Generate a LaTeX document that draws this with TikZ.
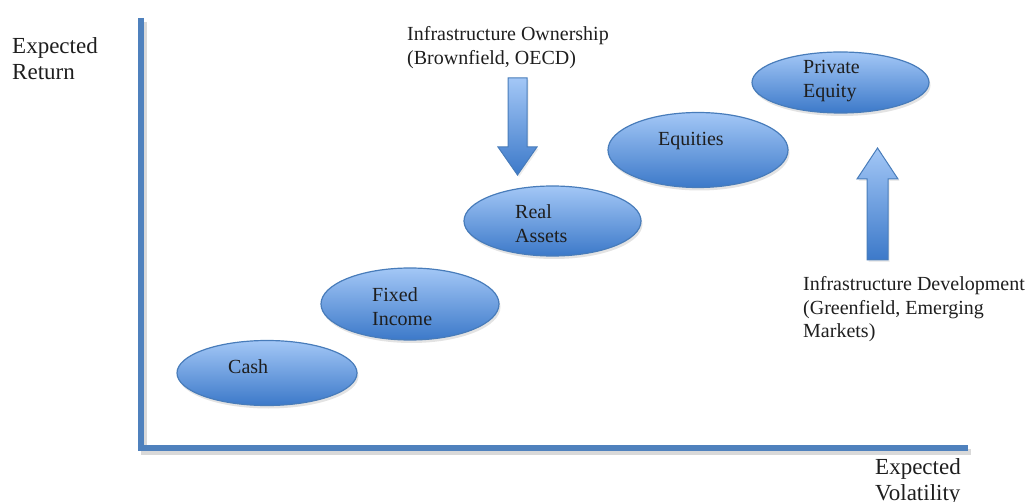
\documentclass[tikz,border=0pt]{standalone}
\usepackage{fontspec}
\setmainfont{Liberation Serif}
\usepackage{xcolor}
\definecolor{Col1}{RGB}{163,199,246}
\definecolor{Col2}{RGB}{60,121,201}
\definecolor{Col3}{RGB}{72,124,186}
\definecolor{Col4}{RGB}{79,129,189}
\definecolor{Col5}{RGB}{30,30,30}
\usepackage{tikz}
\usetikzlibrary{shapes}
\usetikzlibrary{shadows}
\tikzstyle{Blob}=[ellipse,draw=Col3,line width=1.2pt,top color=Col1,
bottom color=Col2,inner sep=0pt,
drop shadow={shadow xshift=1.5pt,shadow yshift=-3pt,fill=black!22}]
\tikzstyle{Block}=[draw=Col3,line width=1pt,top color=Col1,
bottom color=Col2,line join=miter,
drop shadow={shadow xshift=1.5pt,shadow yshift=-2pt,fill=black!15}]
\tikzstyle{Axis}=[draw=Col4,line width=6pt,line join=miter]
\tikzstyle{AxisShade}=[Axis,draw=black!15]
\tikzstyle{Label}=[anchor=north west,inner sep=0pt,align=left,
text=Col5,font=\fontsize{20}{23.5}\selectfont]
\tikzstyle{AxisLabel}=[Label,font=\fontsize{23}{26}\selectfont]

\begin{document}
\begin{tikzpicture}[x=1pt,y=-1pt]
        \useasboundingbox(0,0)rectangle(1027,502);
        % axes
        \coordinate(top)at(141.00,18.00);
        \coordinate(o)at(141.00,448.00);
        \coordinate(end)at(968.00,448.00);
        \draw[AxisShade]([shift={(3,4)}]top)--([shift={(3,4)}]o)
            --([shift={(3,4)}]end);
        \draw[Axis](top)--(o)--(end);
        \node[AxisLabel](ret)at(12.00,37.60){Expected\\Return};
        \node[AxisLabel](vol)at(875.00,458.80){Expected\\Volatility};
        % asset classes
        \node[Blob,minimum width=180,minimum height=65](cash)
            at(267.00,373.00){};
        \node[Blob,minimum width=178,minimum height=72](fixed)
            at(410.00,304.00){};
        \node[Blob,minimum width=177,minimum height=70](real)
            at(552.50,221.00){};
        \node[Blob,minimum width=180,minimum height=75](eq)
            at(698.00,150.00){};
        \node[Blob,minimum width=177,minimum height=61](pe)
            at(840.50,82.50){};
        \node[Label](cashT)at(228.00,359.50){Cash};
        \node[Label](fixedT)at(372.00,287.50){Fixed\\Income};
        \node[Label](realT)at(515.00,204.50){Real\\Assets};
        \node[Label](eqT)at(658.00,132.50){Equities};
        \node[Label](peT)at(803.00,60.50){Private\\Equity};
        % infrastructure
        \node[Label](own)at(407.00,26.30)
            {Infrastructure Ownership\\(Brownfield, OECD)};
        \node[Label](dev)at(803.00,276.70)
            {Infrastructure Development\\(Greenfield, Emerging\\Markets)};
        \coordinate(down)at(517.50,78.00);
        \coordinate(up)at(877.50,260.00);
        \path[Block](down)++(-9.5,0)--++(0,69)--++(-10,0)--(517.50,175.00)
            --(537.00,147.00)--++(-10,0)--++(0,-69)--cycle;
        \path[Block](up)++(-10.5,0)--++(0,-81)--++(-10,0)--(877.50,148.00)
            --(898.00,179.00)--++(-10,0)--++(0,81)--cycle;
    \end{tikzpicture}
\end{document}
